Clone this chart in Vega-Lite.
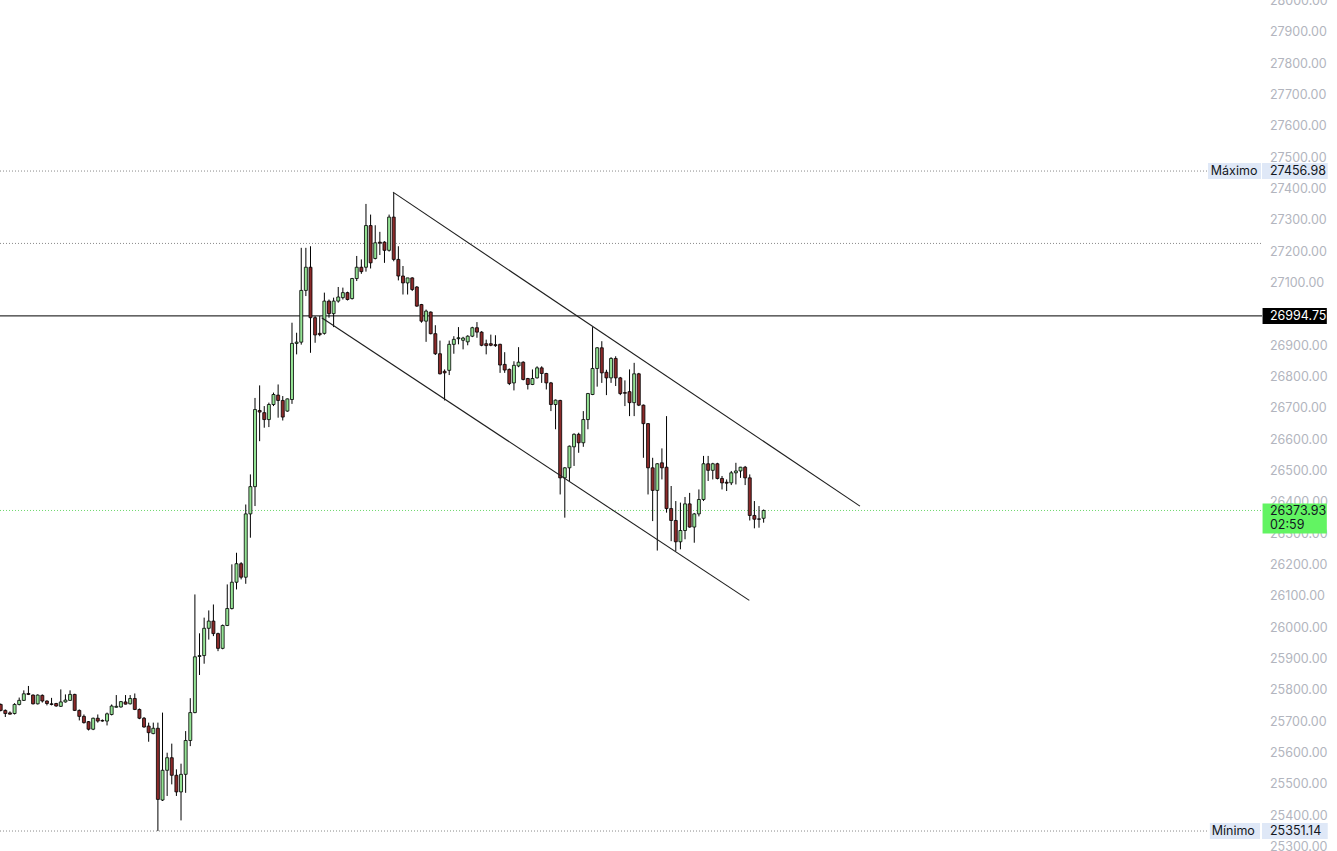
{
  "$schema": "https://vega.github.io/schema/vega-lite/v6.json",
  "width": 1337,
  "height": 851,
  "autosize": "none",
  "padding": 0,
  "background": "#ffffff",
  "view": {"stroke": null},
  "config": {"scale": {"continuousPadding": 0}},
  "datasets": {
    "ticks": [
      {"v":25300},{"v":25400},{"v":25500},{"v":25600},{"v":25700},{"v":25800},{"v":25900},
      {"v":26000},{"v":26100},{"v":26200},{"v":26300},{"v":26400},{"v":26500},{"v":26600},
      {"v":26700},{"v":26800},{"v":26900},{"v":27000},{"v":27100},{"v":27200},{"v":27300},
      {"v":27400},{"v":27500},{"v":27600},{"v":27700},{"v":27800},{"v":27900},{"v":28000}
    ],
    "candles": [
      {"i":1,"o":25755,"h":25758,"l":25733,"c":25736},
      {"i":2,"o":25736,"h":25739,"l":25715,"c":25726},
      {"i":3,"o":25728,"h":25733,"l":25723,"c":25724},
      {"i":4,"o":25726,"h":25759,"l":25723,"c":25755},
      {"i":5,"o":25755,"h":25777,"l":25752,"c":25768},
      {"i":6,"o":25768,"h":25800,"l":25766,"c":25789},
      {"i":7,"o":25790,"h":25814,"l":25785,"c":25787},
      {"i":8,"o":25785,"h":25787,"l":25755,"c":25757},
      {"i":9,"o":25757,"h":25787,"l":25755,"c":25785},
      {"i":10,"o":25784,"h":25787,"l":25761,"c":25766},
      {"i":11,"o":25766,"h":25768,"l":25752,"c":25758},
      {"i":12,"o":25757,"h":25776,"l":25752,"c":25755},
      {"i":13,"o":25758,"h":25760,"l":25748,"c":25750},
      {"i":14,"o":25749,"h":25803,"l":25747,"c":25763},
      {"i":15,"o":25763,"h":25787,"l":25761,"c":25769},
      {"i":16,"o":25768,"h":25800,"l":25766,"c":25787},
      {"i":17,"o":25787,"h":25789,"l":25734,"c":25736},
      {"i":18,"o":25736,"h":25739,"l":25704,"c":25717},
      {"i":19,"o":25717,"h":25723,"l":25694,"c":25697},
      {"i":20,"o":25700,"h":25702,"l":25672,"c":25676},
      {"i":21,"o":25676,"h":25713,"l":25673,"c":25711},
      {"i":22,"o":25711,"h":25723,"l":25697,"c":25702},
      {"i":23,"o":25704,"h":25707,"l":25700,"c":25702},
      {"i":24,"o":25702,"h":25729,"l":25688,"c":25725},
      {"i":25,"o":25723,"h":25755,"l":25720,"c":25750},
      {"i":26,"o":25746,"h":25785,"l":25745,"c":25749},
      {"i":27,"o":25747,"h":25766,"l":25745,"c":25764},
      {"i":28,"o":25763,"h":25785,"l":25755,"c":25756},
      {"i":29,"o":25757,"h":25785,"l":25755,"c":25774},
      {"i":30,"o":25774,"h":25790,"l":25737,"c":25739},
      {"i":31,"o":25739,"h":25742,"l":25708,"c":25711},
      {"i":32,"o":25711,"h":25715,"l":25681,"c":25683},
      {"i":33,"o":25686,"h":25697,"l":25636,"c":25665},
      {"i":34,"o":25662,"h":25697,"l":25660,"c":25679},
      {"i":35,"o":25679,"h":25697,"l":25351,"c":25452},
      {"i":36,"o":25450,"h":25729,"l":25447,"c":25545},
      {"i":37,"o":25545,"h":25601,"l":25463,"c":25585},
      {"i":38,"o":25585,"h":25630,"l":25500,"c":25529},
      {"i":39,"o":25529,"h":25548,"l":25463,"c":25476},
      {"i":40,"o":25476,"h":25566,"l":25385,"c":25532},
      {"i":41,"o":25532,"h":25670,"l":25473,"c":25640},
      {"i":42,"o":25640,"h":25775,"l":25622,"c":25729},
      {"i":43,"o":25729,"h":26106,"l":25727,"c":25907},
      {"i":44,"o":25908,"h":25982,"l":25849,"c":25911},
      {"i":45,"o":25911,"h":26032,"l":25885,"c":25998},
      {"i":46,"o":25998,"h":26055,"l":25962,"c":26021},
      {"i":47,"o":26021,"h":26074,"l":25973,"c":25981},
      {"i":48,"o":25981,"h":25984,"l":25925,"c":25934},
      {"i":49,"o":25934,"h":26010,"l":25931,"c":26007},
      {"i":50,"o":26007,"h":26138,"l":26005,"c":26061},
      {"i":51,"o":26061,"h":26202,"l":26058,"c":26145},
      {"i":52,"o":26145,"h":26239,"l":26122,"c":26204},
      {"i":53,"o":26204,"h":26209,"l":26154,"c":26161},
      {"i":54,"o":26161,"h":26393,"l":26140,"c":26363},
      {"i":55,"o":26363,"h":26489,"l":26287,"c":26450},
      {"i":56,"o":26450,"h":26733,"l":26388,"c":26696},
      {"i":57,"o":26693,"h":26773,"l":26595,"c":26688},
      {"i":58,"o":26686,"h":26707,"l":26638,"c":26664},
      {"i":59,"o":26664,"h":26718,"l":26640,"c":26712},
      {"i":60,"o":26712,"h":26750,"l":26707,"c":26744},
      {"i":61,"o":26742,"h":26776,"l":26670,"c":26725},
      {"i":62,"o":26725,"h":26739,"l":26661,"c":26672},
      {"i":63,"o":26691,"h":26731,"l":26689,"c":26730},
      {"i":64,"o":26728,"h":26973,"l":26714,"c":26907},
      {"i":65,"o":26907,"h":26941,"l":26872,"c":26911},
      {"i":66,"o":26911,"h":27212,"l":26903,"c":27076},
      {"i":67,"o":27076,"h":27212,"l":27058,"c":27150},
      {"i":68,"o":27150,"h":27217,"l":26877,"c":26989},
      {"i":69,"o":26989,"h":26994,"l":26909,"c":26934},
      {"i":70,"o":26939,"h":26994,"l":26930,"c":26935},
      {"i":71,"o":26939,"h":27069,"l":26935,"c":27042},
      {"i":72,"o":27042,"h":27047,"l":26989,"c":27002},
      {"i":73,"o":27002,"h":27053,"l":26959,"c":27042},
      {"i":74,"o":27042,"h":27087,"l":27037,"c":27055},
      {"i":75,"o":27053,"h":27085,"l":27047,"c":27069},
      {"i":76,"o":27069,"h":27072,"l":27044,"c":27047},
      {"i":77,"o":27050,"h":27116,"l":27047,"c":27114},
      {"i":78,"o":27114,"h":27186,"l":27106,"c":27150},
      {"i":79,"o":27150,"h":27175,"l":27129,"c":27136},
      {"i":80,"o":27150,"h":27352,"l":27136,"c":27283},
      {"i":81,"o":27283,"h":27318,"l":27146,"c":27164},
      {"i":82,"o":27178,"h":27284,"l":27175,"c":27228},
      {"i":83,"o":27230,"h":27263,"l":27189,"c":27227},
      {"i":84,"o":27230,"h":27233,"l":27164,"c":27204},
      {"i":85,"o":27204,"h":27318,"l":27200,"c":27310},
      {"i":86,"o":27310,"h":27387,"l":27169,"c":27175},
      {"i":87,"o":27175,"h":27217,"l":27108,"c":27122},
      {"i":88,"o":27122,"h":27154,"l":27063,"c":27100},
      {"i":89,"o":27100,"h":27116,"l":27063,"c":27116},
      {"i":90,"o":27116,"h":27118,"l":27074,"c":27079},
      {"i":91,"o":27087,"h":27090,"l":27024,"c":27026},
      {"i":92,"o":27031,"h":27033,"l":26973,"c":26978},
      {"i":93,"o":26978,"h":27015,"l":26912,"c":27010},
      {"i":94,"o":27007,"h":27009,"l":26936,"c":26938},
      {"i":95,"o":26938,"h":26965,"l":26870,"c":26874},
      {"i":96,"o":26874,"h":26916,"l":26808,"c":26810},
      {"i":97,"o":26818,"h":26824,"l":26725,"c":26813},
      {"i":98,"o":26821,"h":26916,"l":26806,"c":26904},
      {"i":99,"o":26904,"h":26930,"l":26874,"c":26920},
      {"i":100,"o":26922,"h":26959,"l":26904,"c":26925},
      {"i":101,"o":26917,"h":26928,"l":26888,"c":26924},
      {"i":102,"o":26912,"h":26933,"l":26901,"c":26930},
      {"i":103,"o":26930,"h":26960,"l":26927,"c":26957},
      {"i":104,"o":26957,"h":26975,"l":26925,"c":26943},
      {"i":105,"o":26943,"h":26946,"l":26898,"c":26901},
      {"i":106,"o":26906,"h":26919,"l":26872,"c":26900},
      {"i":107,"o":26906,"h":26935,"l":26898,"c":26901},
      {"i":108,"o":26903,"h":26933,"l":26896,"c":26900},
      {"i":109,"o":26904,"h":26906,"l":26813,"c":26838},
      {"i":110,"o":26840,"h":26879,"l":26813,"c":26822},
      {"i":111,"o":26824,"h":26827,"l":26774,"c":26779},
      {"i":112,"o":26781,"h":26850,"l":26757,"c":26837},
      {"i":113,"o":26835,"h":26895,"l":26831,"c":26847},
      {"i":114,"o":26847,"h":26850,"l":26789,"c":26792},
      {"i":115,"o":26795,"h":26797,"l":26760,"c":26776},
      {"i":116,"o":26776,"h":26824,"l":26774,"c":26795},
      {"i":117,"o":26797,"h":26834,"l":26795,"c":26829},
      {"i":118,"o":26829,"h":26834,"l":26781,"c":26811},
      {"i":119,"o":26811,"h":26813,"l":26760,"c":26781},
      {"i":120,"o":26781,"h":26784,"l":26691,"c":26712},
      {"i":121,"o":26712,"h":26728,"l":26633,"c":26726},
      {"i":122,"o":26725,"h":26727,"l":26425,"c":26478},
      {"i":123,"o":26478,"h":26512,"l":26351,"c":26510},
      {"i":124,"o":26510,"h":26581,"l":26468,"c":26579},
      {"i":125,"o":26577,"h":26620,"l":26516,"c":26617},
      {"i":126,"o":26617,"h":26622,"l":26558,"c":26590},
      {"i":127,"o":26590,"h":26691,"l":26577,"c":26664},
      {"i":128,"o":26664,"h":26749,"l":26633,"c":26747},
      {"i":129,"o":26744,"h":26959,"l":26742,"c":26827},
      {"i":130,"o":26827,"h":26895,"l":26769,"c":26893},
      {"i":131,"o":26893,"h":26914,"l":26781,"c":26813},
      {"i":132,"o":26815,"h":26823,"l":26742,"c":26797},
      {"i":133,"o":26797,"h":26863,"l":26781,"c":26859},
      {"i":134,"o":26859,"h":26866,"l":26771,"c":26797},
      {"i":135,"o":26797,"h":26800,"l":26742,"c":26747},
      {"i":136,"o":26750,"h":26789,"l":26707,"c":26748},
      {"i":137,"o":26753,"h":26824,"l":26675,"c":26718},
      {"i":138,"o":26718,"h":26845,"l":26675,"c":26810},
      {"i":139,"o":26810,"h":26813,"l":26707,"c":26710},
      {"i":140,"o":26710,"h":26712,"l":26542,"c":26651},
      {"i":141,"o":26651,"h":26653,"l":26425,"c":26510},
      {"i":142,"o":26510,"h":26542,"l":26340,"c":26438},
      {"i":143,"o":26438,"h":26525,"l":26246,"c":26523},
      {"i":144,"o":26526,"h":26572,"l":26473,"c":26510},
      {"i":145,"o":26512,"h":26675,"l":26367,"c":26380},
      {"i":146,"o":26380,"h":26452,"l":26276,"c":26342},
      {"i":147,"o":26342,"h":26404,"l":26244,"c":26274},
      {"i":148,"o":26274,"h":26399,"l":26250,"c":26310},
      {"i":149,"o":26310,"h":26417,"l":26282,"c":26395},
      {"i":150,"o":26395,"h":26430,"l":26319,"c":26321},
      {"i":151,"o":26321,"h":26366,"l":26271,"c":26363},
      {"i":152,"o":26363,"h":26441,"l":26355,"c":26409},
      {"i":153,"o":26409,"h":26548,"l":26404,"c":26523},
      {"i":154,"o":26523,"h":26548,"l":26468,"c":26502},
      {"i":155,"o":26502,"h":26526,"l":26473,"c":26523},
      {"i":156,"o":26523,"h":26526,"l":26473,"c":26476},
      {"i":157,"o":26476,"h":26484,"l":26441,"c":26462},
      {"i":158,"o":26464,"h":26473,"l":26436,"c":26461},
      {"i":159,"o":26462,"h":26500,"l":26455,"c":26494},
      {"i":160,"o":26494,"h":26526,"l":26457,"c":26500},
      {"i":161,"o":26500,"h":26513,"l":26478,"c":26512},
      {"i":162,"o":26512,"h":26516,"l":26455,"c":26478},
      {"i":163,"o":26478,"h":26489,"l":26342,"c":26358},
      {"i":164,"o":26358,"h":26404,"l":26317,"c":26346},
      {"i":165,"o":26347,"h":26388,"l":26319,"c":26346},
      {"i":166,"o":26349,"h":26377,"l":26335,"c":26373.93}
    ],
    "greyLevels": [
      {"p":27456.98,"i":0.85,"i2":261.9},
      {"p":27226,"i":0.85,"i2":273.8},
      {"p":25351.14,"i":0.85,"i2":261.9}
    ],
    "lastLevel": [{"p":26373.93,"i":0.85,"i2":273.8}],
    "resLevel": [{"p":26994.75,"i":0.85,"i2":273.8}],
    "trend": [
      {"id":"upper","i":85.84,"p":27389.6},
      {"id":"upper","i":186.83,"p":26387.9},
      {"id":"lower","i":70.42,"p":26988.6},
      {"id":"lower","i":162.9,"p":26087}
    ],
    "nameBoxes": [
      {"kind":"max","p":27456.98,"i":262.1,"i2":273.57,"label":"Máximo","li":262.7},
      {"kind":"min","p":25351.14,"i":262.5,"i2":273.35,"label":"Mínimo","li":262.9}
    ],
    "valueBoxes": [
      {"kind":"max","p":27456.98,"i":273.78,"i2":288.0,"label":"27456.98","li":275.5},
      {"kind":"res","p":26994.75,"i":273.9,"i2":287.8,"label":"26994.75","li":275.5},
      {"kind":"min","p":25351.14,"i":273.78,"i2":288.0,"label":"25351.14","li":275.5}
    ],
    "lastBox": [{"kind":"last","p":26373.93,"i":273.9,"i2":287.8,"label":"26373.93","timer":"02:59","li":275.5}]
  },
  "encoding": {
    "x": {"type": "quantitative", "scale": {"domain": [0.85, 290], "nice": false, "zero": false, "padding": 0}, "axis": null},
    "y": {"type": "quantitative", "scale": {"domain": [25287.4, 28002.7], "nice": false, "zero": false, "padding": 0}, "axis": null}
  },
  "layer": [
    {
      "data": {"name": "ticks"},
      "mark": {"type": "text", "align": "left", "baseline": "middle", "font": "Inter", "fontSize": 12.5, "color": "#b2b5be"},
      "encoding": {
        "x": {"datum": 275.5, "type": "quantitative"},
        "y": {"field": "v", "type": "quantitative"},
        "text": {"field": "v", "type": "quantitative", "format": ".2f"}
      }
    },
    {
      "data": {"name": "greyLevels"},
      "mark": {"type": "rule", "color": "#8a8a8a", "strokeWidth": 1, "strokeDash": [1, 2]},
      "encoding": {
        "x": {"field": "i", "type": "quantitative"},
        "x2": {"field": "i2"},
        "y": {"field": "p", "type": "quantitative"}
      }
    },
    {
      "data": {"name": "lastLevel"},
      "mark": {"type": "rule", "color": "#6fd86f", "strokeWidth": 1, "strokeDash": [1, 2]},
      "encoding": {
        "x": {"field": "i", "type": "quantitative"},
        "x2": {"field": "i2"},
        "y": {"field": "p", "type": "quantitative"}
      }
    },
    {
      "data": {"name": "resLevel"},
      "mark": {"type": "rule", "color": "#000000", "strokeWidth": 1},
      "encoding": {
        "x": {"field": "i", "type": "quantitative"},
        "x2": {"field": "i2"},
        "y": {"field": "p", "type": "quantitative"}
      }
    },
    {
      "data": {"name": "candles"},
      "mark": {"type": "rule", "color": "#000000", "strokeWidth": 1},
      "encoding": {
        "x": {"field": "i", "type": "quantitative"},
        "y": {"field": "l", "type": "quantitative"},
        "y2": {"field": "h"}
      }
    },
    {
      "data": {"name": "candles"},
      "mark": {"type": "bar", "size": 3, "stroke": "#000000", "strokeWidth": 0.8},
      "encoding": {
        "x": {"field": "i", "type": "quantitative"},
        "y": {"field": "o", "type": "quantitative"},
        "y2": {"field": "c"},
        "color": {"condition": {"test": "datum.c < datum.o", "value": "#8b2a2a"}, "value": "#94e394"}
      }
    },
    {
      "data": {"name": "trend"},
      "mark": {"type": "line", "color": "#1e1e1e", "strokeWidth": 1.1},
      "encoding": {
        "x": {"field": "i", "type": "quantitative"},
        "y": {"field": "p", "type": "quantitative"},
        "detail": {"field": "id"}
      }
    },
    {
      "data": {"name": "nameBoxes"},
      "mark": {"type": "bar", "size": 16, "color": "#dfe8f7"},
      "encoding": {
        "x": {"field": "i", "type": "quantitative"},
        "x2": {"field": "i2"},
        "y": {"field": "p", "type": "quantitative"}
      }
    },
    {
      "data": {"name": "valueBoxes"},
      "mark": {"type": "bar", "size": 16},
      "encoding": {
        "x": {"field": "i", "type": "quantitative"},
        "x2": {"field": "i2"},
        "y": {"field": "p", "type": "quantitative"},
        "color": {"field": "kind", "type": "nominal", "legend": null,
          "scale": {"domain": ["max", "res", "min"], "range": ["#dfe8f7", "#000000", "#dfe8f7"]}}
      }
    },
    {
      "data": {"name": "lastBox"},
      "mark": {"type": "bar", "size": 30, "color": "#62f462", "yOffset": 8},
      "encoding": {
        "x": {"field": "i", "type": "quantitative"},
        "x2": {"field": "i2"},
        "y": {"field": "p", "type": "quantitative"}
      }
    },
    {
      "data": {"name": "nameBoxes"},
      "mark": {"type": "text", "align": "left", "baseline": "middle", "font": "Inter", "fontSize": 12.5, "color": "#131722"},
      "encoding": {
        "x": {"field": "li", "type": "quantitative"},
        "y": {"field": "p", "type": "quantitative"},
        "text": {"field": "label"}
      }
    },
    {
      "data": {"name": "valueBoxes"},
      "mark": {"type": "text", "align": "left", "baseline": "middle", "font": "Inter", "fontSize": 12.5},
      "encoding": {
        "x": {"field": "li", "type": "quantitative"},
        "y": {"field": "p", "type": "quantitative"},
        "text": {"field": "label"},
        "color": {"field": "kind", "type": "nominal", "legend": null,
          "scale": {"domain": ["max", "res", "min"], "range": ["#131722", "#ffffff", "#131722"]}}
      }
    },
    {
      "data": {"name": "lastBox"},
      "mark": {"type": "text", "align": "left", "baseline": "middle", "font": "Inter", "fontSize": 12.5, "color": "#131722", "dy": 1},
      "encoding": {
        "x": {"field": "li", "type": "quantitative"},
        "y": {"field": "p", "type": "quantitative"},
        "text": {"field": "label"}
      }
    },
    {
      "data": {"name": "lastBox"},
      "mark": {"type": "text", "align": "left", "baseline": "middle", "font": "Inter", "fontSize": 12.5, "color": "#131722", "dy": 15},
      "encoding": {
        "x": {"field": "li", "type": "quantitative"},
        "y": {"field": "p", "type": "quantitative"},
        "text": {"field": "timer"}
      }
    }
  ],
  "resolve": {"scale": {"color": "independent"}}
}
